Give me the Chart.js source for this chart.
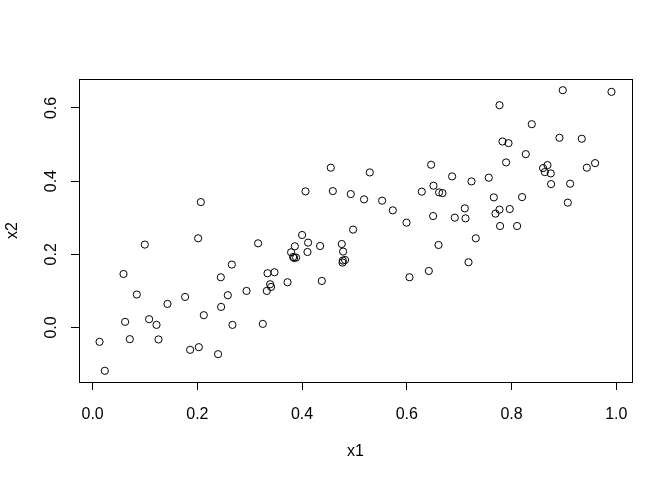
<!DOCTYPE html>
<html>
<head>
<meta charset="utf-8">
<script src="https://cdn.jsdelivr.net/npm/chart.js@4"></script>
<style>
  html, body { margin: 0; padding: 0; background: #fff; }
  #wrap { width: 672px; height: 480px; }
</style>
</head>
<body>
<div id="wrap"><canvas id="chart-scatter" width="672" height="480"></canvas></div>
<script>
// Scatter of x2 against x1 (R base plot look)
const x1 = [
  0.2066, 0.2015, 0.0997, 0.3160, 0.2658, 0.0590, 0.2448, 0.3340, 0.3473, 0.3389,
  0.3408, 0.3326, 0.2939, 0.0844, 0.1766, 0.2582, 0.1430, 0.2454, 0.2123, 0.0621,
  0.1079, 0.1220, 0.2671, 0.3250, 0.0132, 0.0710, 0.1258, 0.1862, 0.2028, 0.2396,
  0.0233, 0.4548, 0.5293, 0.6464, 0.4065, 0.4587, 0.4930, 0.5184, 0.5528, 0.6286,
  0.6509, 0.6616, 0.5732, 0.5994, 0.6502, 0.4974, 0.4000, 0.3861, 0.4115, 0.4344,
  0.4758, 0.3790, 0.4103, 0.4783, 0.3829, 0.3886, 0.3848, 0.4778, 0.4821, 0.4772,
  0.6605, 0.3722, 0.4377, 0.6051, 0.6420, 0.6681, 0.8978, 0.9908, 0.7770, 0.8386,
  0.8915, 0.9341, 0.7827, 0.7942, 0.8272, 0.7896, 0.8602, 0.8686, 0.8635, 0.8749,
  0.9437, 0.9595, 0.6865, 0.7235, 0.7565, 0.8755, 0.9118, 0.7661, 0.8201, 0.9074,
  0.7107, 0.6916, 0.7121, 0.7770, 0.7693, 0.7966, 0.7781, 0.8106, 0.7317, 0.7178
];
const x2 = [
  0.3427, 0.2437, 0.2265, 0.2300, 0.1719, 0.1462, 0.1372, 0.1482, 0.1509, 0.1181,
  0.1108, 0.0999, 0.0999, 0.0900, 0.0835, 0.0881, 0.0644, 0.0562, 0.0336, 0.0153,
  0.0226, 0.0071, 0.0071, 0.0098, -0.0393, -0.0319, -0.0327, -0.0611, -0.0538, -0.0729,
  -0.1184, 0.4366, 0.4237, 0.4447, 0.3719, 0.3727, 0.3645, 0.3501, 0.3465, 0.3711,
  0.3874, 0.3692, 0.3201, 0.2865, 0.3045, 0.2674, 0.2527, 0.2218, 0.2319, 0.2226,
  0.2281, 0.2055, 0.2063, 0.2074, 0.1926, 0.1910, 0.1899, 0.1828, 0.1844, 0.1774,
  0.2254, 0.1236, 0.1271, 0.1372, 0.1544, 0.3673, 0.6483, 0.6439, 0.6074, 0.5555,
  0.5184, 0.5157, 0.5083, 0.5037, 0.4737, 0.4510, 0.4355, 0.4437, 0.4246, 0.4210,
  0.4366, 0.4491, 0.4128, 0.3992, 0.4093, 0.3918, 0.3929, 0.3555, 0.3563, 0.3411,
  0.3255, 0.3001, 0.2982, 0.3220, 0.3111, 0.3236, 0.2772, 0.2772, 0.2437, 0.1782
];
const xTicks = [0, 0.2, 0.4, 0.6, 0.8, 1.0];
const yTicks = [0, 0.2, 0.4, 0.6];

const fontFamily = '"Liberation Sans", Arial, sans-serif';
const ink = '#000';

// R draws a full box round the plot region
const boxPlugin = {
    id: 'box',
    afterDraw(chart) {
        const { ctx, chartArea: a } = chart;
        ctx.save();
        ctx.strokeStyle = ink;
        ctx.lineWidth = 1;
        ctx.strokeRect(Math.round(a.left) + 0.5, Math.round(a.top) + 0.5,
            Math.round(a.right - a.left), Math.round(a.bottom - a.top));
        ctx.restore();
    }
};

const axisCommon = {
    grid: { display: true, drawOnChartArea: false, drawTicks: true, tickLength: 8, color: ink, lineWidth: 1 },
    border: { display: false },
};

new Chart(document.getElementById('chart-scatter'), {
    type: 'scatter',
    data: {
        datasets: [{
            label: 'x2',
            data: x1.map((v, i) => ({ x: v, y: x2[i] })),
            backgroundColor: 'rgba(0,0,0,0)',
            borderColor: ink,
            borderWidth: 1,
            pointRadius: 3.6,
            pointHoverRadius: 3.6
        }]
    },
    options: {
        responsive: false,
        animation: false,
        events: [],
        layout: { padding: { top: 79, right: 40, left: 0, bottom: 0 } },
        plugins: { legend: { display: false }, tooltip: { enabled: false } },
        scales: {
            x: {
                ...axisCommon,
                type: 'linear',
                min: -0.026,
                max: 1.030,
                afterBuildTicks: (axis) => { axis.ticks = xTicks.map(v => ({ value: v })); },
                afterFit: (axis) => { axis.height = 98; },
                ticks: {
                    color: ink,
                    padding: 15,
                    maxRotation: 0,
                    font: { family: fontFamily, size: 16 },
                    callback: (v) => v.toFixed(1)
                },
                title: {
                    display: true, text: 'x1', color: ink,
                    font: { family: fontFamily, size: 16 },
                    padding: { top: 0, bottom: 19 }
                }
            },
            y: {
                ...axisCommon,
                type: 'linear',
                min: -0.149,
                max: 0.679,
                afterBuildTicks: (axis) => { axis.ticks = yTicks.map(v => ({ value: v })); },
                afterFit: (axis) => { axis.width = 79; },
                ticks: {
                    color: ink,
                    padding: 8,
                    crossAlign: 'center',
                    minRotation: 90,
                    maxRotation: 90,
                    font: { family: fontFamily, size: 16 },
                    callback: (v) => v.toFixed(1)
                },
                title: {
                    display: true, text: 'x2', color: ink,
                    font: { family: fontFamily, size: 16 },
                    padding: { top: 3, bottom: 3 }
                }
            }
        }
    },
    plugins: [boxPlugin]
});
</script>
</body>
</html>
